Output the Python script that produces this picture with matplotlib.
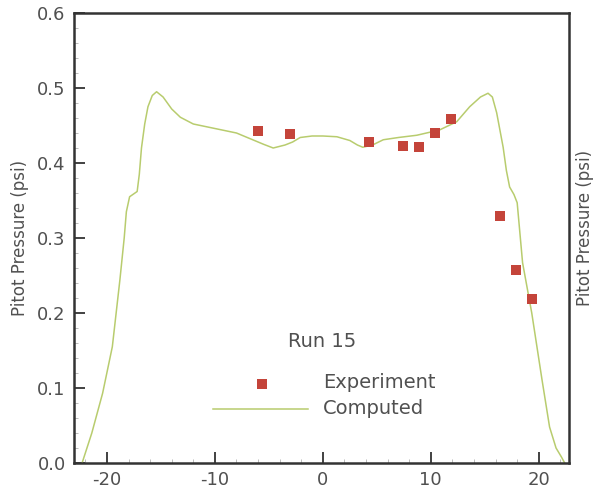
import matplotlib.pyplot as plt
from matplotlib.ticker import MultipleLocator

exp_x = [-6.0, -3.0, 4.3, 7.4, 8.9, 10.4, 11.9, 16.4, 17.9, 19.4]
exp_p = [0.443, 0.439, 0.428, 0.423, 0.421, 0.440, 0.459, 0.329, 0.257, 0.219]

# courbe calculee
comp_x = [-22.3, -21.4, -20.4, -19.5, -18.8, -18.4, -18.2, -17.9, -17.2, -17.0, -16.8, -16.5, -16.2,
          -15.8, -15.4, -14.8, -14.0, -13.2, -12.0, -10.0, -8.0, -6.5, -5.5, -4.6, -3.5, -2.8, -2.1,
          -1.0, 0.0, 1.3, 2.5, 3.2, 3.7, 4.6, 5.6, 7.0, 8.7, 10.8, 12.4, 13.6, 14.6, 15.3, 15.7, 16.1,
          16.7, 17.0, 17.3, 17.7, 18.0, 18.5, 19.35, 20.3, 21.0, 21.6, 22.1, 22.4]
comp_p = [0.0, 0.04, 0.093, 0.155, 0.244, 0.30, 0.335, 0.355, 0.362, 0.385, 0.42, 0.452, 0.475,
          0.490, 0.495, 0.488, 0.472, 0.461, 0.452, 0.446, 0.440, 0.431, 0.425, 0.420, 0.424, 0.428,
          0.434, 0.436, 0.436, 0.435, 0.430, 0.424, 0.421, 0.424, 0.431, 0.434, 0.437, 0.444, 0.455,
          0.475, 0.488, 0.493, 0.488, 0.467, 0.421, 0.39, 0.368, 0.358, 0.347, 0.267, 0.200, 0.111,
          0.048, 0.020, 0.008, 0.0]

line_col = '#b8cc6e'
mark_col = '#c4443a'
txt_col = '#505050'

plt.rcParams['font.family'] = ['DejaVu Sans']
plt.rcParams['axes.unicode_minus'] = False

fig = plt.figure(figsize=(5.95, 4.91), dpi=100)
ax = fig.add_axes([74/595, 1-463/491, (569-74)/595, (463-13)/491])

ax.plot(comp_x, comp_p, color=line_col, lw=1.1)
ax.scatter(exp_x, exp_p, marker='s', s=50, color=mark_col, lw=0, zorder=3)

ax.set_xlim(-23.05, 22.8)
ax.set_ylim(0, 0.6)
ax.xaxis.set_major_locator(MultipleLocator(10))
ax.xaxis.set_minor_locator(MultipleLocator(2))
ax.yaxis.set_major_locator(MultipleLocator(0.1))
ax.yaxis.set_minor_locator(MultipleLocator(0.02))
ax.yaxis.set_major_formatter(lambda v, p: '%.1f' % v)
ax.tick_params(which='major', direction='in', length=8, width=1.3, color='#333333',
               labelsize=13, labelcolor=txt_col, pad=6)
ax.tick_params(which='minor', direction='in', length=3, width=0.7, color='#bbbbbb')
for s in ax.spines.values():
    s.set_linewidth(1.8)
    s.set_color('#333333')
ax.set_ylabel('Pitot Pressure (psi)', fontsize=12, color=txt_col, labelpad=6)

# legende faite a la main
ax.text(-0.1, 0.162, 'Run 15', fontsize=14, color=txt_col, ha='center', va='center')
ax.scatter([-5.6], [0.106], marker='s', s=50, color=mark_col, lw=0)
ax.plot([-10.2, -1.4], [0.072, 0.072], color=line_col, lw=1.1)
ax.text(0.0, 0.108, 'Experiment', fontsize=14, color=txt_col, ha='left', va='center')
ax.text(0.0, 0.072, 'Computed', fontsize=14, color=txt_col, ha='left', va='center')

# etiquette du graphe voisin (coupee)
fig.text(585/595, 1-228/491, 'Pitot Pressure (psi)', rotation=90, fontsize=12,
         color=txt_col, ha='center', va='center')

fig.savefig('out.png', dpi=100)
